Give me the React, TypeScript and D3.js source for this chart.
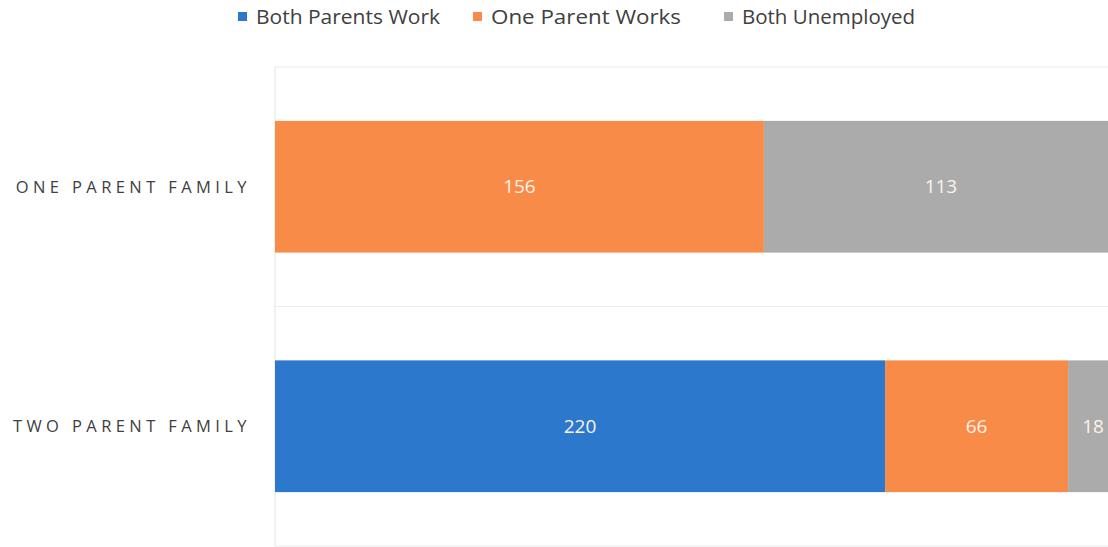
import React from "react";
import * as d3 from "d3";

const categories = ["ONE PARENT FAMILY", "TWO PARENT FAMILY"];
const seriesNames = ["Both Parents Work", "One Parent Works", "Both Unemployed"];
const bothWork = [0, 220];
const oneWorks = [156, 66];
const bothUnemployed = [113, 18];
const colors = ["#2B78CC", "#F88B47", "#ABABAB"];

const W = 1108;
const H = 547;
const left = 275;
const right = 1118;
const top = 67;
const bottom = 546;

export default function App() {
  const rows = categories.map((c, i) => ({
    cat: c,
    s0: bothWork[i],
    s1: oneWorks[i],
    s2: bothUnemployed[i],
  }));
  const stack = d3
    .stack<any>()
    .keys(["s0", "s1", "s2"])
    .offset(d3.stackOffsetExpand);
  const series = stack(rows);
  const x = d3.scaleLinear().domain([0, 1]).range([left, right]);
  const y = d3.scaleBand().domain(categories).range([top, bottom]).paddingInner(0.45).paddingOuter(0.225);
  const yb = d3.scaleBand().domain(categories).range([top, bottom]);
  const raw = [bothWork, oneWorks, bothUnemployed];

  const legendX = [238, 473, 724];
  const legendLen = [184, 190, 173];

  return (
    <svg width={W} height={H} style={{ position: "absolute", left: 0, top: 0, background: "#fff" }}
      fontFamily="'Open Sans', sans-serif">
      {[top, ...categories.map((c) => yb(c)! + yb.bandwidth())].map((yy, i) => (
        <line key={i} x1={left} x2={W} y1={yy} y2={yy} stroke="#ececec" strokeWidth={1} />
      ))}
      <line x1={left} x2={left} y1={top} y2={bottom} stroke="#e3e3e3" strokeWidth={1} />
      {series.map((s, si) => (
        <g key={si}>
          {s.map((d, di) => {
            const v = raw[si][di];
            if (!v) return null;
            const x0 = x(d[0]);
            const x1 = x(d[1]);
            const yy = y(categories[di])!;
            return (
              <g key={di}>
                <rect x={x0} y={yy} width={x1 - x0} height={y.bandwidth()} fill={colors[si]} />
                <text x={(x0 + x1) / 2} y={yy + y.bandwidth() / 2} dy="0.35em" textAnchor="middle"
                  fill="#fdf3ea" fontSize={19}>{v}</text>
              </g>
            );
          })}
        </g>
      ))}
      {categories.map((c) => (
        <text key={c} x={251} y={yb(c)! + yb.bandwidth() / 2} dy="0.35em" textAnchor="end"
          fill="#404040" fontSize={16.5} letterSpacing={4.4}>{c}</text>
      ))}
      {seriesNames.map((n, i) => (
        <g key={n}>
          <rect x={legendX[i]} y={12} width={9} height={9} fill={colors[i]} />
          <text x={legendX[i] + 18} y={17} dy="0.35em" fill="#404040" fontSize={20}
            textLength={legendLen[i]} lengthAdjust="spacingAndGlyphs">{n}</text>
        </g>
      ))}
    </svg>
  );
}
